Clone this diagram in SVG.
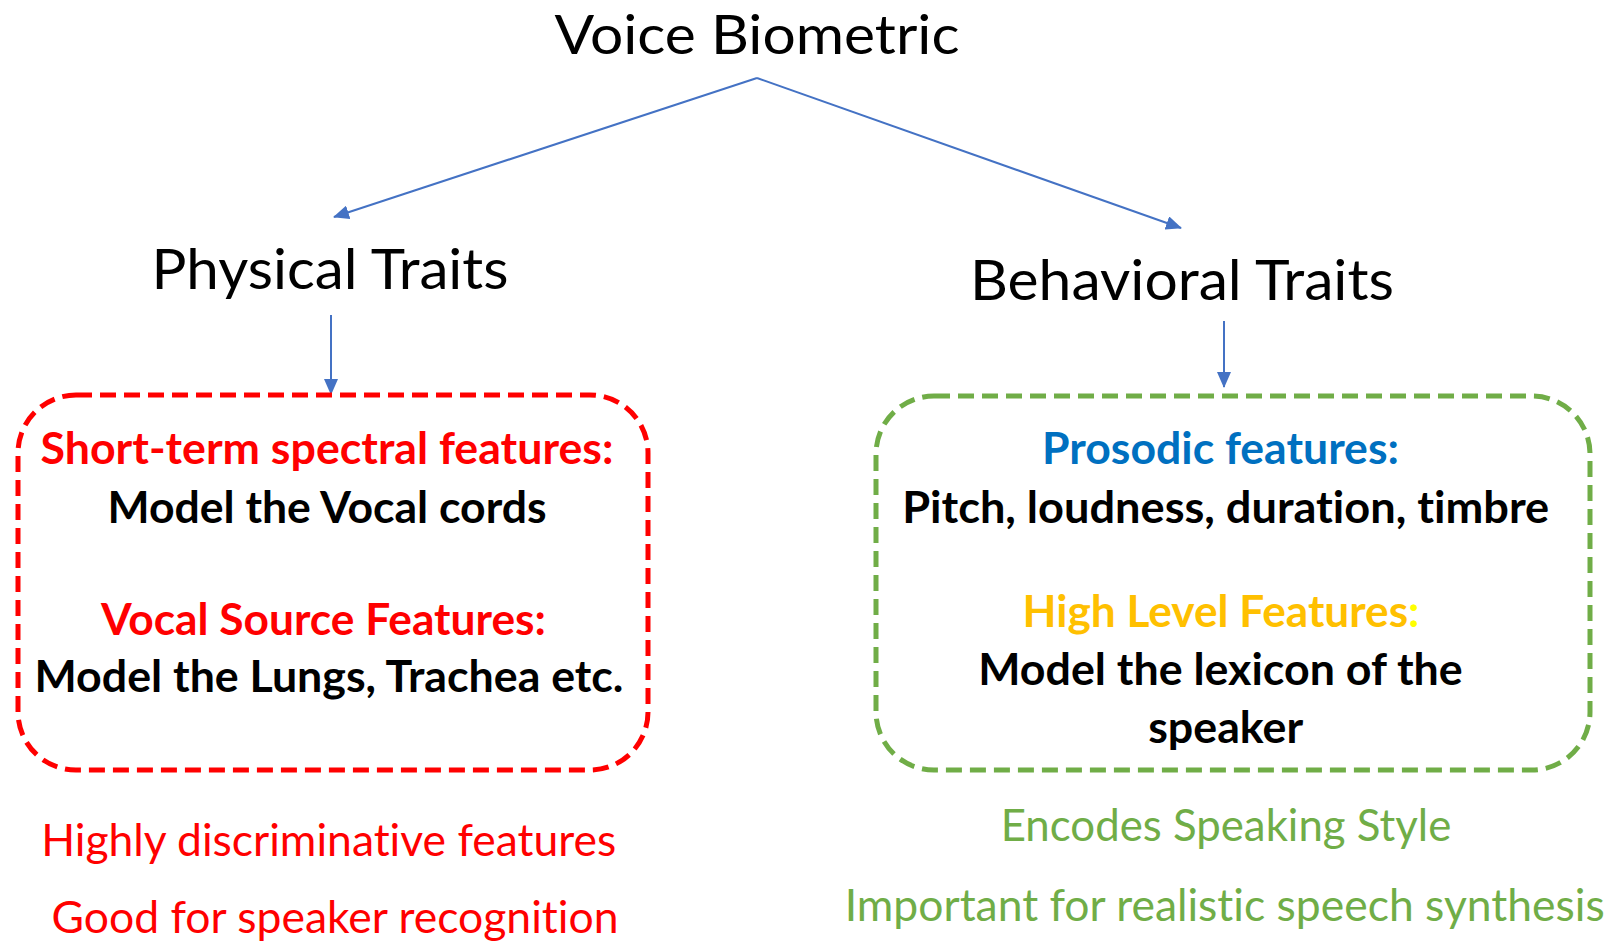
<svg xmlns="http://www.w3.org/2000/svg" width="1613" height="941" viewBox="0 0 1613 941">
<style>
text{font-family:Lato,"Open Sans","Liberation Sans",sans-serif;text-anchor:middle;font-variant-ligatures:none}
.t{font-size:57px;fill:#000}
.b{font-size:43px;font-weight:bold}
.r{font-size:45px}
.red{fill:#FF0000}
.blk{fill:#000}
.blue{fill:#0070C0}
.gold{fill:#FFC000}
.grn{fill:#70AD47}
.conn{stroke:#4472C4;stroke-width:2;fill:none;marker-end:url(#ah)}
.box{fill:none;stroke-width:5;stroke-dasharray:16 8}
</style>
<defs>
<marker id="ah" markerUnits="userSpaceOnUse" markerWidth="16" markerHeight="14" refX="15" refY="7" orient="auto">
<path d="M0,0 L16,7 L0,14 Z" fill="#4472C4"/>
</marker>
</defs>
<g id="connectors">
<line class="conn" x1="757" y1="78" x2="334" y2="217"/>
<line class="conn" x1="757" y1="78" x2="1181" y2="228"/>
<line class="conn" x1="331" y1="315" x2="331" y2="394"/>
<line class="conn" x1="1224" y1="321" x2="1224" y2="387"/>
</g>
<g id="voice-biometric">
<text class="t" x="757" y="54" style="font-size:54px" textLength="405" lengthAdjust="spacingAndGlyphs">Voice Biometric</text>
</g>
<g id="physical-traits">
<text class="t" x="330" y="289" textLength="357" lengthAdjust="spacingAndGlyphs">Physical Traits</text>
</g>
<g id="behavioral-traits">
<text class="t" x="1182" y="300" textLength="424" lengthAdjust="spacingAndGlyphs">Behavioral Traits</text>
</g>
<g id="physical-box">
<rect class="box" x="18" y="395" width="630" height="375" rx="58" ry="58" stroke="#FF0000"/>
<text class="b red" x="327" y="464" textLength="573" lengthAdjust="spacingAndGlyphs">Short-term spectral features:</text>
<text class="b blk" x="327" y="523" textLength="439" lengthAdjust="spacingAndGlyphs">Model the Vocal cords</text>
<text class="b red" x="323.5" y="635" textLength="445" lengthAdjust="spacingAndGlyphs">Vocal Source Features:</text>
<text class="b blk" x="329" y="692" textLength="589" lengthAdjust="spacingAndGlyphs">Model the Lungs, Trachea etc.</text>
</g>
<g id="behavioral-box">
<rect class="box" x="876" y="396" width="714" height="374" rx="58" ry="58" stroke="#70AD47"/>
<text class="b blue" x="1220.5" y="464" textLength="357" lengthAdjust="spacingAndGlyphs">Prosodic features:</text>
<text class="b blk" x="1225.7" y="523" textLength="647" lengthAdjust="spacingAndGlyphs">Pitch, loudness, duration, timbre</text>
<text class="b gold" x="1221" y="626.5" textLength="397" lengthAdjust="spacingAndGlyphs">High Level Features<tspan fill="#FFFF00">:</tspan></text>
<text class="b blk" x="1220.5" y="685" textLength="484.5" lengthAdjust="spacingAndGlyphs">Model the lexicon of the</text>
<text class="b blk" x="1225.7" y="743" textLength="155" lengthAdjust="spacingAndGlyphs">speaker</text>
</g>
<g id="physical-notes">
<text class="r red" x="328.7" y="856" textLength="575" lengthAdjust="spacingAndGlyphs">Highly discriminative features</text>
<text class="r red" x="335" y="933" textLength="567" lengthAdjust="spacingAndGlyphs">Good for speaker recognition</text>
</g>
<g id="behavioral-notes">
<text class="r grn" x="1226" y="840.5" textLength="450.6" lengthAdjust="spacingAndGlyphs">Encodes Speaking Style</text>
<text class="r grn" x="1224.7" y="920.7" textLength="760" lengthAdjust="spacingAndGlyphs">Important for realistic speech synthesis</text>
</g>
</svg>
